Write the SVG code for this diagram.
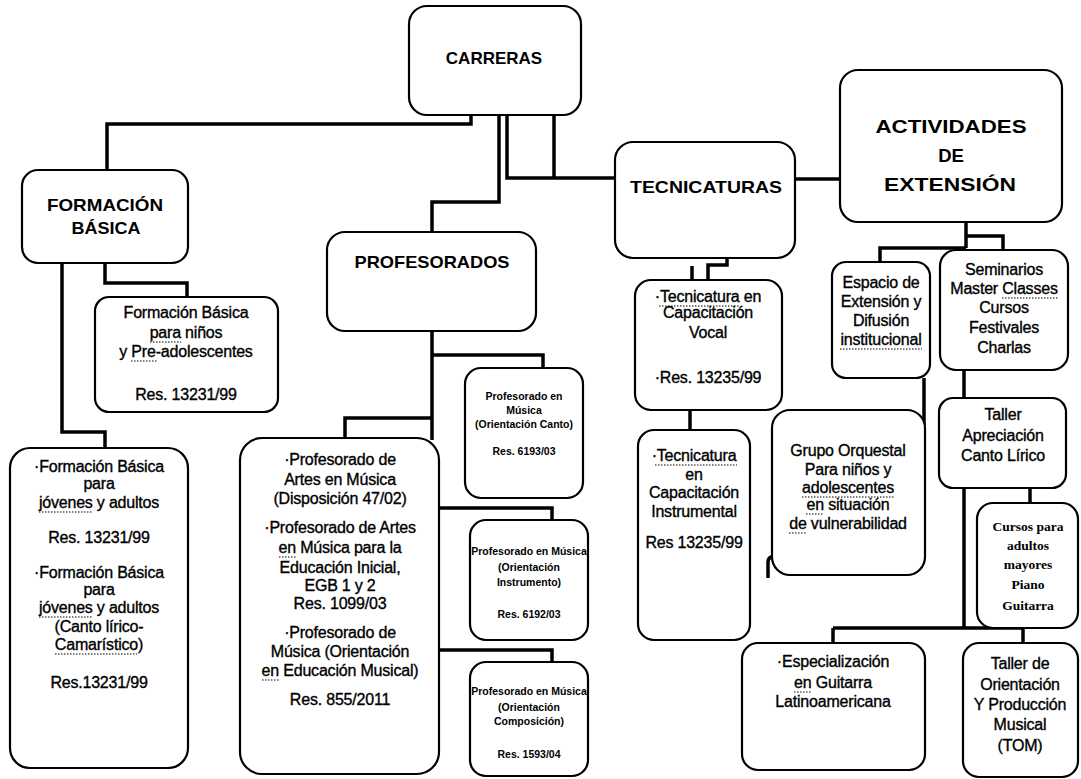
<svg xmlns="http://www.w3.org/2000/svg" width="1081" height="779" viewBox="0 0 1081 779">
<style>
.b{fill:#fff;stroke:#000;stroke-width:2.2}
.h{font-family:"Liberation Sans",Arial,sans-serif;font-weight:bold;font-size:17px;text-anchor:middle;fill:#000}
.a{font-size:18.5px}
.t{font-family:"Liberation Sans",Arial,sans-serif;font-size:16px;letter-spacing:-0.2px;text-anchor:middle;fill:#000;stroke:#000;stroke-width:0.35}
.s{font-family:"Liberation Sans",Arial,sans-serif;font-weight:bold;font-size:10.5px;text-anchor:middle;fill:#000}
.r{font-family:"Liberation Serif","Times New Roman",serif;font-weight:bold;font-size:13.5px;text-anchor:middle;fill:#000}
.c{fill:none;stroke:#000;stroke-width:3.5}
.u{fill:none;stroke:#000;stroke-width:1.2;stroke-dasharray:1.5 1.5}
</style>
<rect width="1081" height="779" fill="#fff"/>
<g id="connectors">
<path class="c" d="M471,115 V124 H107 V170"/>
<path class="c" d="M499,115 V202 H432 V232"/>
<path class="c" d="M507,115 V178 H615 M554,115 V178"/>
<path class="c" d="M795,179 H840"/>
<path class="c" d="M727,258 V265 H708 V280 M692,266 V280"/>
<path class="c" d="M690,410 V430"/>
<path class="c" d="M105,263 V283 H187 V297 M62,263 V432 H105 V448"/>
<path class="c" d="M432,331 V440 M432,355 H543 V368 M432,418 H345 V438"/>
<path class="c" d="M439,508 H552 V520 M439,650 H552 V662"/>
<path class="c" d="M966,222 V248 M966,236 H1003 V250 M966,248 H880 V262"/>
<path class="c" d="M964,370 V398"/>
<path class="c" d="M1030,488 V503"/>
<path class="c" d="M964,488 V628 M833,628 H1023 M833,628 V643 M1023,628 V643"/>
<path class="c" d="M924,378 V425"/>
<path class="c" d="M768,578 V562 Q768,557 774,556"/>
</g>
<g id="carreras"><rect class="b" x="409" y="6" width="172" height="109" rx="18"/><text class="h" x="494" y="64">CARRERAS</text></g>
<g id="formacion"><rect class="b" x="22" y="170" width="166" height="93" rx="16"/><text class="h" x="105" y="211" textLength="116" lengthAdjust="spacingAndGlyphs">FORMACIÓN</text><text class="h" x="106" y="234" textLength="69" lengthAdjust="spacingAndGlyphs">BÁSICA</text></g>
<g id="profesorados"><rect class="b" x="327" y="232" width="209" height="99" rx="18"/><text class="h" x="432" y="268" textLength="155" lengthAdjust="spacingAndGlyphs">PROFESORADOS</text></g>
<g id="tecnicaturas"><rect class="b" x="615" y="142" width="180" height="116" rx="18"/><text class="h" x="706" y="193" textLength="152" lengthAdjust="spacingAndGlyphs">TECNICATURAS</text></g>
<g id="actividades"><rect class="b" x="840" y="70" width="222" height="152" rx="18"/><text class="h a" x="951" y="133" textLength="151" lengthAdjust="spacingAndGlyphs">ACTIVIDADES</text><text class="h a" x="951" y="162">DE</text><text class="h a" x="950" y="191" textLength="132" lengthAdjust="spacingAndGlyphs">EXTENSIÓN</text></g>
<g id="fb-ninos"><rect class="b" x="95" y="297" width="183" height="115" rx="14"/>
<text class="t" x="186" y="318">Formación Básica</text><text class="t" x="186" y="338">para niños</text><text class="t" x="186" y="357">y Pre-adolescentes</text><text class="t" x="186" y="400">Res. 13231/99</text></g>
<g id="fb-jovenes"><rect class="b" x="10" y="448" width="178" height="320" rx="20"/>
<text class="t" x="99" y="472">·Formación Básica</text><text class="t" x="99" y="489">para</text><text class="t" x="99" y="508">jóvenes y adultos</text><text class="t" x="99" y="543">Res. 13231/99</text>
<text class="t" x="99" y="578">·Formación Básica</text><text class="t" x="99" y="595">para</text><text class="t" x="99" y="613">jóvenes y adultos</text><text class="t" x="99" y="632">(Canto lírico-</text><text class="t" x="99" y="650">Camarístico)</text><text class="t" x="99" y="688">Res.13231/99</text></g>
<g id="prof-artes"><rect class="b" x="240" y="438" width="199" height="336" rx="22"/>
<text class="t" x="340" y="465">·Profesorado de</text><text class="t" x="340" y="485">Artes en Música</text><text class="t" x="340" y="504">(Disposición 47/02)</text>
<text class="t" x="340" y="533">·Profesorado de Artes</text><text class="t" x="340" y="553">en Música para la</text><text class="t" x="340" y="573">Educación Inicial,</text><text class="t" x="340" y="591">EGB 1 y 2</text><text class="t" x="340" y="609">Res. 1099/03</text>
<text class="t" x="340" y="638">·Profesorado de</text><text class="t" x="340" y="657">Música (Orientación</text><text class="t" x="340" y="676">en Educación Musical)</text><text class="t" x="340" y="705">Res. 855/2011</text></g>
<g id="prof-canto"><rect class="b" x="465" y="368" width="118" height="130" rx="16"/>
<text class="s" x="524" y="400">Profesorado en</text><text class="s" x="524" y="414">Música</text><text class="s" x="524" y="428">(Orientación Canto)</text><text class="s" x="524" y="455">Res. 6193/03</text></g>
<g id="prof-instrumento"><rect class="b" x="470" y="520" width="118" height="120" rx="16"/>
<text class="s" x="529" y="555">Profesorado en Música</text><text class="s" x="529" y="571">(Orientación</text><text class="s" x="529" y="586">Instrumento)</text><text class="s" x="529" y="618">Res. 6192/03</text></g>
<g id="prof-composicion"><rect class="b" x="470" y="662" width="118" height="114" rx="16"/>
<text class="s" x="529" y="695">Profesorado en Música</text><text class="s" x="529" y="711">(Orientación</text><text class="s" x="529" y="725">Composición)</text><text class="s" x="529" y="758">Res. 1593/04</text></g>
<g id="tec-vocal"><rect class="b" x="635" y="280" width="147" height="130" rx="16"/>
<text class="t" x="708" y="302">·Tecnicatura en</text><text class="t" x="708" y="318">Capacitación</text><text class="t" x="708" y="338">Vocal</text><text class="t" x="708" y="383">·Res. 13235/99</text></g>
<g id="tec-instrumental"><rect class="b" x="638" y="430" width="112" height="210" rx="16"/>
<text class="t" x="694" y="461">·Tecnicatura</text><text class="t" x="694" y="480">en</text><text class="t" x="694" y="498">Capacitación</text><text class="t" x="694" y="517">Instrumental</text><text class="t" x="694" y="548">Res  13235/99</text></g>
<g id="espacio"><rect class="b" x="832" y="262" width="98" height="116" rx="14"/>
<text class="t" x="881" y="288">Espacio de</text><text class="t" x="881" y="307">Extensión y</text><text class="t" x="881" y="326">Difusión</text><text class="t" x="881" y="345">institucional</text></g>
<g id="seminarios"><rect class="b" x="940" y="250" width="128" height="120" rx="16"/>
<text class="t" x="1004" y="275">Seminarios</text><text class="t" x="1004" y="294">Master Classes</text><text class="t" x="1004" y="313">Cursos</text><text class="t" x="1004" y="333">Festivales</text><text class="t" x="1004" y="353">Charlas</text></g>
<g id="taller-canto"><rect class="b" x="939" y="398" width="127" height="90" rx="14"/>
<text class="t" x="1003" y="420">Taller</text><text class="t" x="1003" y="441">Apreciación</text><text class="t" x="1003" y="461">Canto Lírico</text></g>
<g id="cursos-adultos"><rect class="b" x="977" y="503" width="101" height="125" rx="16"/>
<text class="r" x="1028" y="531">Cursos para</text><text class="r" x="1028" y="550">adultos</text><text class="r" x="1028" y="569">mayores</text><text class="r" x="1028" y="589">Piano</text><text class="r" x="1028" y="610">Guitarra</text></g>
<g id="grupo-orquestal"><rect class="b" x="772" y="410" width="153" height="165" rx="18"/>
<text class="t" x="848" y="456">Grupo Orquestal</text><text class="t" x="848" y="475">Para niños y</text><text class="t" x="848" y="493">adolescentes</text><text class="t" x="848" y="510">en situación</text><text class="t" x="848" y="529">de vulnerabilidad</text></g>
<g id="especializacion"><rect class="b" x="742" y="643" width="183" height="127" rx="16"/>
<text class="t" x="833" y="667">·Especialización</text><text class="t" x="833" y="688">en  Guitarra</text><text class="t" x="833" y="707">Latinoamericana</text></g>
<g id="tom"><rect class="b" x="963" y="643" width="115" height="134" rx="16"/>
<text class="t" x="1020" y="669">Taller de</text><text class="t" x="1020" y="690">Orientación</text><text class="t" x="1020" y="710">Y Producción</text><text class="t" x="1020" y="730">Musical</text><text class="t" x="1020" y="751">(TOM)</text></g>
<g id="spell-underlines">
<path class="u" d="M150,342 H181 M131,361 H157 M39,512 H93 M39,617 H93 M55,654 H137 M279,557 H296 M262,680 H279 M659,306 H740 M655,465 H737 M1002,298 H1058 M840,349 H922 M802,497 H894 M806,514 H824 M789,533 H806 M794,692 H811"/>
</g>
</svg>
